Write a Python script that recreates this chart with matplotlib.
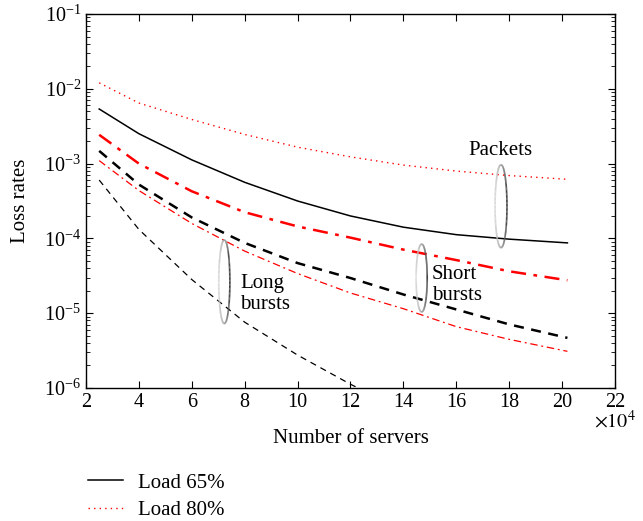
import numpy as np
import matplotlib
matplotlib.use("Agg")
import matplotlib.pyplot as plt
from matplotlib.collections import LineCollection

# servers, in units of 10^4
servers = [2.5, 4, 6, 8, 10, 12, 14, 16, 18, 20.2]
servers_long65 = [2.5, 4, 6, 8, 10, 12, 14]

# log10 of loss rates
packets_80 = [-1.92, -2.19, -2.41, -2.61, -2.78, -2.91, -3.02, -3.10, -3.16, -3.21]
packets_65 = [-2.27, -2.60, -2.95, -3.25, -3.50, -3.70, -3.85, -3.95, -4.01, -4.06]
short_80 = [-2.615, -3.0, -3.37, -3.65, -3.84, -3.99, -4.15, -4.29, -4.44, -4.56]
short_65 = [-2.83, -3.28, -3.72, -4.06, -4.33, -4.53, -4.75, -4.95, -5.15, -5.33]
long_80 = [-2.96, -3.36, -3.80, -4.17, -4.47, -4.73, -4.94, -5.18, -5.35, -5.51]
long_65 = [-3.22, -3.88, -4.55, -5.12, -5.56, -5.95, -6.30]

plt.rcParams['font.family'] = ['Liberation Serif', 'DejaVu Serif']
plt.rcParams['mathtext.fontset'] = 'stix'

fig = plt.figure(figsize=(6.43, 5.21), dpi=100)
ax = fig.add_axes([0.1337, 0.2553, 0.8228, 0.7178])

def p(v):
    return 10 ** np.array(v)

l65, = ax.plot(servers, p(packets_65), color='black', lw=1.1, label='Load 65%')
l80, = ax.plot(servers, p(packets_80), color='red', lw=1.0, ls=(0, (1, 3)), label='Load 80%')
ax.plot(servers, p(short_80), color='red', lw=1.8, ls=(0, (6, 3, 1.5, 3)))
ax.plot(servers, p(short_65), color='black', lw=1.8, ls=(0, (4, 3)))
ax.plot(servers, p(long_80), color='red', lw=0.9, ls=(0, (6, 3, 1.5, 3)))
ax.plot(servers_long65, p(long_65), color='black', lw=0.9, ls=(0, (5, 4)))

ax.set_yscale('log')
ax.set_xlim(2, 22)
ax.set_ylim(1e-6, 1e-1)
ax.set_xticks(range(2, 23, 2))
ax.tick_params(which='both', direction='in', top=True, right=True, labelsize=14.5)
ax.tick_params(which='major', length=5)
ax.tick_params(which='minor', length=3)
for s in ax.spines.values():
    s.set_linewidth(1.0)

ax.set_ylabel('Loss rates', fontsize=15, labelpad=10)
ax.set_xlabel('Number of servers', fontsize=15, labelpad=12)
ax.text(1.0, -0.09, r'$\times 10^4$', transform=ax.transAxes, fontsize=14.5,
        ha='center', va='center')

# grouping ellipses, gradient gray (light on the left)
def ellipse(cx, cy, w, h):
    t = np.linspace(0, 2 * np.pi, 200)
    x = cx + w / 2 * np.cos(t)
    y = 10 ** (cy + h / 2 * np.sin(t))
    pts = np.column_stack([x, y]).reshape(-1, 1, 2)
    segs = np.concatenate([pts[:-1], pts[1:]], axis=1)
    g = 0.55 - 0.3 * np.cos(t[:-1])
    lc = LineCollection(segs, colors=[(c, c, c) for c in g], linewidths=1.2)
    ax.add_collection(lc)

ellipse(17.69, -3.57, 0.45, 1.11)
ellipse(14.69, -4.53, 0.42, 0.91)
ellipse(7.23, -4.58, 0.42, 1.12)

ax.text(17.65, 10 ** -2.82, 'Packets', fontsize=15, ha='center', va='center')
ax.text(15.08, 10 ** -4.62, 'Short\nbursts', fontsize=15, ha='left', va='center',
        linespacing=1.15)
ax.text(7.82, 10 ** -4.74, 'Long\nbursts', fontsize=15, ha='left', va='center',
        linespacing=1.15)

fig.legend(handles=[l65, l80], loc='upper left', bbox_to_anchor=(88 / 643, 1 - 473 / 521),
           frameon=False, fontsize=15, handlelength=1.68, handletextpad=0.72,
           labelspacing=0.38, borderpad=0, borderaxespad=0)

fig.savefig('out.png', dpi=100)
